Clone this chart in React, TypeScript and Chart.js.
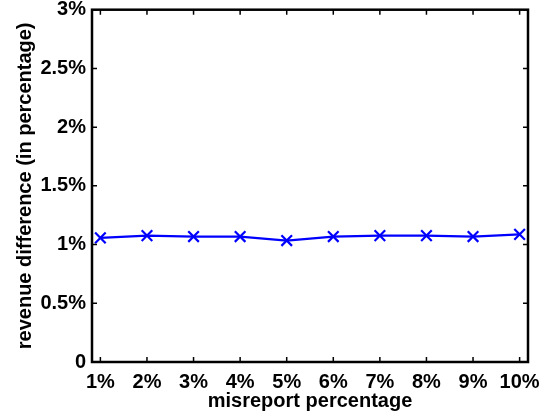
import React, { useEffect, useRef } from "react";
import { Chart, registerables } from "chart.js";

Chart.register(...registerables);

const xValues = [1, 2, 3, 4, 5, 6, 7, 8, 9, 10];
const xTickLabels = ["1%", "2%", "3%", "4%", "5%", "6%", "7%", "8%", "9%", "10%"];
const revenueDiff = [1.057, 1.076, 1.068, 1.068, 1.034, 1.068, 1.076, 1.076, 1.068, 1.087];
const yTickValues = [0, 0.5, 1, 1.5, 2, 2.5, 3];
const yTickLabels = ["0", "0.5%", "1%", "1.5%", "2%", "2.5%", "3%"];

const FONT = "'Liberation Sans', Arial, Helvetica, sans-serif";

const boxPlugin = {
  id: "matlabBox",
  afterDraw(chart: any) {
    const { ctx, chartArea, scales } = chart;
    const { left, right, top, bottom } = chartArea;
    ctx.save();
    ctx.strokeStyle = "#000";
    ctx.lineWidth = 1.5;
    const tl = 5;
    ctx.beginPath();
    for (const v of yTickValues) {
      const y = scales.y.getPixelForValue(v);
      ctx.moveTo(left, y);
      ctx.lineTo(left + tl, y);
      ctx.moveTo(right, y);
      ctx.lineTo(right - tl, y);
    }
    for (const v of xValues) {
      const x = scales.x.getPixelForValue(v);
      ctx.moveTo(x, bottom);
      ctx.lineTo(x, bottom - tl);
      ctx.moveTo(x, top);
      ctx.lineTo(x, top + tl);
    }
    ctx.stroke();
    ctx.lineWidth = 2.5;
    ctx.strokeRect(left, top, right - left, bottom - top);
    ctx.restore();
  },
};

export default function App() {
  const ref = useRef<HTMLCanvasElement | null>(null);

  useEffect(() => {
    document.body.style.margin = "0";
    const canvas = ref.current;
    if (!canvas) return;
    const chart = new Chart(canvas, {
      type: "line",
      data: {
        datasets: [
          {
            data: xValues.map((x, i) => ({ x, y: revenueDiff[i] })),
            borderColor: "#0000ff",
            backgroundColor: "#0000ff",
            borderWidth: 2.2,
            pointStyle: "crossRot",
            pointRadius: 7.5,
            pointBorderWidth: 2.2,
            pointBorderColor: "#0000ff",
            tension: 0,
          },
        ],
      },
      options: {
        responsive: false,
        animation: false,
        events: [],
        layout: { padding: { left: 0, top: 8, right: 18, bottom: 0 } },
        plugins: { legend: { display: false }, tooltip: { enabled: false } },
        scales: {
          x: {
            type: "linear",
            min: 0.82,
            max: 10.18,
            grid: { display: false, drawTicks: false, tickLength: 0 },
            border: { display: false },
            afterBuildTicks: (scale: any) => {
              scale.ticks = xValues.map((v) => ({ value: v }));
            },
            afterFit: (scale: any) => {
              scale.height = 55;
              scale.paddingLeft = 0;
              scale.paddingRight = 0;
            },
            ticks: {
              autoSkip: false,
              maxRotation: 0,
              padding: 8,
              color: "#000",
              font: { family: FONT, size: 20, weight: "bold" },
              callback: (v: any) => {
                const i = xValues.indexOf(Number(v));
                return i >= 0 ? xTickLabels[i] : "";
              },
            },
            title: {
              display: true,
              text: "misreport percentage",
              color: "#000",
              font: { family: FONT, size: 20, weight: "bold" },
              padding: { top: 0, bottom: 4 },
            },
          },
          y: {
            type: "linear",
            min: 0,
            max: 3,
            grid: { display: false, drawTicks: false, tickLength: 0 },
            border: { display: false },
            afterBuildTicks: (scale: any) => {
              scale.ticks = yTickValues.map((v) => ({ value: v }));
            },
            afterFit: (scale: any) => {
              scale.width = 92;
              scale.paddingTop = 0;
              scale.paddingBottom = 0;
            },
            ticks: {
              autoSkip: false,
              padding: 6,
              color: "#000",
              font: { family: FONT, size: 20, weight: "bold" },
              callback: (v: any) => {
                const i = yTickValues.indexOf(Number(v));
                return i >= 0 ? yTickLabels[i] : "";
              },
            },
            title: {
              display: true,
              text: "revenue difference (in percentage)",
              color: "#000",
              font: { family: FONT, size: 20, weight: "bold" },
              padding: { top: 13, bottom: 0 },
            },
          },
        },
      },
      plugins: [boxPlugin],
    });
    return () => chart.destroy();
  }, []);

  return (
    <div style={{ position: "absolute", left: 0, top: 0, width: 546, height: 417, background: "#fff" }}>
      <canvas ref={ref} width={546} height={417} style={{ display: "block" }} />
    </div>
  );
}
